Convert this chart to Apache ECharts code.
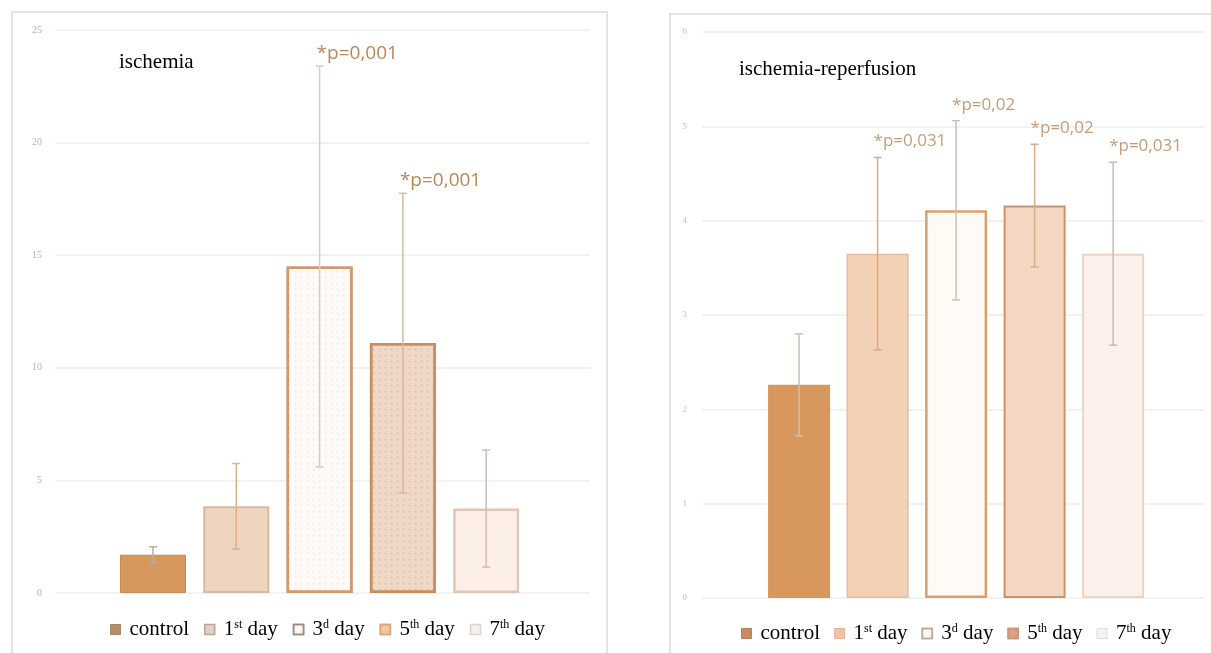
<!DOCTYPE html>
<html>
<head>
<meta charset="utf-8">
<script src="https://cdn.jsdelivr.net/npm/echarts@6/dist/echarts.min.js"></script>
<style>
html,body{margin:0;padding:0;background:#fff;}
#c{width:1211px;height:653px;}
</style>
</head>
<body>
<div id="c"></div>
<script>
// ---- data ----
const categories = ['control', '1st day', '3d day', '5th day', '7th day'];
const ischemiaMeans = [1.7, 3.85, 14.5, 11.1, 3.75];
const ischemiaErr = [0.35, 1.9, 8.9, 6.65, 2.6];
const ischemiaP = ['', '', '*p=0,001', '*p=0,001', ''];
const reperfMeans = [2.26, 3.65, 4.11, 4.16, 3.65];
const reperfErr = [0.54, 1.02, 0.95, 0.65, 0.97];
const reperfP = ['', '*p=0,031', '*p=0,02', '*p=0,02', '*p=0,031'];
const titles = ['ischemia', 'ischemia-reperfusion'];

// ---- styles ----
const dots = (c) => ({symbol: 'circle', symbolSize: 0.6, dashArrayX: 3, dashArrayY: 3, color: c});
const leftStyles = [
  {color: '#d8975c', borderColor: '#c98a55', borderWidth: 1},
  {color: '#efd4bf', borderColor: '#d9b9a0', borderWidth: 2},
  {color: '#fffaf6', borderColor: '#d29a6c', borderWidth: 2.5, decal: dots('rgba(215,170,130,0.22)')},
  {color: '#efd9c6', borderColor: '#c98e5e', borderWidth: 2.5, decal: dots('rgba(190,140,100,0.35)')},
  {color: '#fbefe8', borderColor: '#dfc6b6', borderWidth: 2.5}
];
const rightStyles = [
  {color: '#d8975c', borderColor: '#d8975c', borderWidth: 0},
  {color: '#f2d1b6', borderColor: '#e6bc9c', borderWidth: 1.5},
  {color: '#fffaf5', borderColor: '#dba067', borderWidth: 2.5},
  {color: '#f3d7c2', borderColor: '#c99469', borderWidth: 2},
  {color: '#fcf1eb', borderColor: '#ebd3c5', borderWidth: 2}
];
const leftErrColors = ['#b9aca6', '#e0ae8a', '#d9cbc2', '#d3bba8', '#cdbcb2'];
const rightErrColors = ['#cfc0b2', '#e2a77a', '#cdbfb8', '#d3b08c', '#c8bcb6'];
const legendIconsLeft = [
  {color: '#b58e70', borderColor: '#a98467', borderWidth: 1},
  {color: '#e0cfc4', borderColor: '#bba79a', borderWidth: 1.5},
  {color: '#fbf7f3', borderColor: '#9b8b80', borderWidth: 1.5},
  {color: '#f1c9a0', borderColor: '#d9a77a', borderWidth: 1.5},
  {color: '#f4f0ee', borderColor: '#dcd4cf', borderWidth: 1.5}
];
const legendIconsRight = [
  {color: '#c88a62', borderColor: '#bb7f58', borderWidth: 1},
  {color: '#f0c2a6', borderColor: '#eab595', borderWidth: 1},
  {color: '#fbf7f1', borderColor: '#b7ab9c', borderWidth: 1.5},
  {color: '#d9a284', borderColor: '#c9957a', borderWidth: 1.5},
  {color: '#f6f2f0', borderColor: '#e2dcd8', borderWidth: 1}
];

function supFormat(name) {
  return name.replace(/^(\d)(st|d|th) /, '$1{sup|$2} ');
}

function barSeries(means, styles, axisIdx) {
  return categories.map((name, i) => ({
    type: 'bar', name: name,
    xAxisIndex: axisIdx, yAxisIndex: axisIdx,
    barWidth: axisIdx === 0 ? 66 : 62, barGap: '-100%',
    data: [[i, means[i]]],
    itemStyle: styles[i],
    emphasis: {disabled: true},
    z: 2
  }));
}

function errSeries(means, errs, labels, colors, axisIdx) {
  return {
    type: 'custom', xAxisIndex: axisIdx, yAxisIndex: axisIdx, z: 5,
    silent: true,
    data: means.map((m, i) => [i, m, errs[i]]),
    encode: {x: 0, y: 1},
    renderItem: function (params, api) {
      const i = api.value(0), m = api.value(1), e = api.value(2);
      const top = api.coord([i, m + e]);
      const bot = api.coord([i, m - e]);
      const c = colors[params.dataIndex];
      const cap = 4;
      const children = [
        {type: 'line', shape: {x1: top[0], y1: top[1], x2: bot[0], y2: bot[1]}, style: {stroke: c, lineWidth: 1.5}},
        {type: 'line', shape: {x1: top[0] - cap, y1: top[1], x2: top[0] + cap, y2: top[1]}, style: {stroke: c, lineWidth: 1.5}},
        {type: 'line', shape: {x1: bot[0] - cap, y1: bot[1], x2: bot[0] + cap, y2: bot[1]}, style: {stroke: c, lineWidth: 1.5}}
      ];
      const lbl = labels[params.dataIndex];
      if (lbl) {
        if (axisIdx === 0) {
          children.push({type: 'text', style: {text: lbl, x: top[0] - 3, y: top[1] - 3,
            align: 'left', verticalAlign: 'bottom', fill: '#b8875a',
            font: '19px "Open Sans", sans-serif'}});
        } else {
          children.push({type: 'text', style: {text: lbl, x: top[0] - 4, y: top[1] - 16,
            align: 'left', verticalAlign: 'middle', fill: '#c49c7a',
            font: '17px "Open Sans", sans-serif'}});
        }
      }
      return {type: 'group', children: children};
    }
  };
}

const legendText = {
  fontFamily: '"Liberation Serif", "Times New Roman", serif', fontSize: 21, color: '#000',
  padding: [0, 0, 0, 4],
  rich: {sup: {fontFamily: '"Liberation Serif", serif', fontSize: 12, color: '#000', verticalAlign: 'top', lineHeight: 14}}
};

const chart = echarts.init(document.getElementById('c'), null, {renderer: 'canvas'});
chart.setOption({
  animation: false,
  backgroundColor: '#ffffff',
  graphic: [
    {type: 'rect', shape: {x: 12, y: 12, width: 595, height: 650}, style: {fill: 'none', stroke: '#dcdcdc', lineWidth: 1.5}, z: -10},
    {type: 'rect', shape: {x: 670, y: 14, width: 550, height: 650}, style: {fill: 'none', stroke: '#dcdcdc', lineWidth: 1.5}, z: -10}
  ],
  title: [
    {text: titles[0], left: 114, top: 47, textStyle: {fontFamily: '"Liberation Serif", serif', fontSize: 21, fontWeight: 'normal', color: '#000'}},
    {text: titles[1], left: 734, top: 54, textStyle: {fontFamily: '"Liberation Serif", serif', fontSize: 21, fontWeight: 'normal', color: '#000'}}
  ],
  legend: [
    {left: 105, top: 614, itemWidth: 10, itemHeight: 10, itemGap: 15, icon: 'rect',
     data: categories.map((n, i) => ({name: n, itemStyle: legendIconsLeft[i]})),
     formatter: supFormat, textStyle: legendText, selectedMode: false},
    {left: 736, top: 618, itemWidth: 10, itemHeight: 10, itemGap: 14, icon: 'rect',
     data: categories.map((n, i) => ({name: n, itemStyle: legendIconsRight[i]})),
     formatter: supFormat, textStyle: legendText, selectedMode: false}
  ],
  grid: [
    {left: 55, right: 621, top: 30, bottom: 60},
    {left: 702, right: 6, top: 32, bottom: 55}
  ],
  xAxis: [
    {type: 'value', gridIndex: 0, min: -1.176, max: 5.246, show: false},
    {type: 'value', gridIndex: 1, min: -1.236, max: 5.17, show: false}
  ],
  yAxis: [
    {type: 'value', gridIndex: 0, min: 0, max: 25, interval: 5,
     axisLine: {show: false}, axisTick: {show: false},
     axisLabel: {color: '#b5b5b5', fontSize: 10, fontFamily: '"Liberation Serif", serif', margin: 13},
     splitLine: {lineStyle: {color: '#eeeeee', width: 1.5}}},
    {type: 'value', gridIndex: 1, min: 0, max: 6, interval: 1,
     axisLine: {show: false}, axisTick: {show: false},
     axisLabel: {color: '#bdbdbd', fontSize: 9, fontFamily: '"Liberation Serif", serif', margin: 15},
     splitLine: {lineStyle: {color: '#eeeeee', width: 1.5}}}
  ],
  series: [
    ...barSeries(ischemiaMeans, leftStyles, 0),
    ...barSeries(reperfMeans, rightStyles, 1),
    errSeries(ischemiaMeans, ischemiaErr, ischemiaP, leftErrColors, 0),
    errSeries(reperfMeans, reperfErr, reperfP, rightErrColors, 1)
  ]
});
</script>
</body>
</html>
